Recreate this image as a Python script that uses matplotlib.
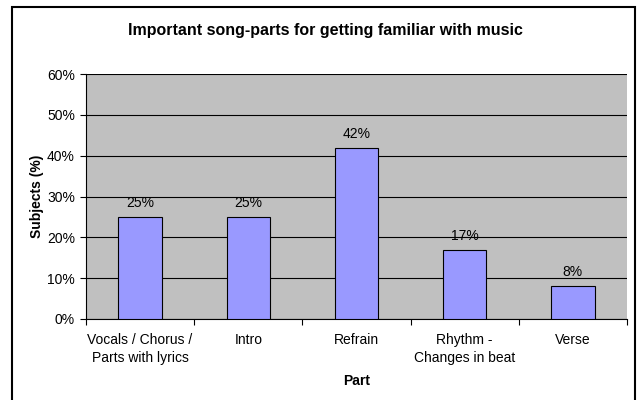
import matplotlib
matplotlib.use('Agg')
import matplotlib.pyplot as plt
from matplotlib.patches import Rectangle
from matplotlib.ticker import FuncFormatter

plt.rcParams['font.family'] = ['Liberation Sans', 'DejaVu Sans']

# data
parts = ['Vocals / Chorus /\nParts with lyrics', 'Intro', 'Refrain', 'Rhythm -\nChanges in beat', 'Verse']
subjects = [25, 25, 42, 17, 8]
yticks = [0, 10, 20, 30, 40, 50, 60]

fig = plt.figure(figsize=(6.37, 4.0), dpi=100)
fig.patches.append(Rectangle((12/637, -0.01), 623/637, 1 - 7/400 + 0.01,
                             transform=fig.transFigure, fill=False,
                             edgecolor='black', linewidth=1.5))

ax = fig.add_axes([86/637, 81/400, 541/637, 245/400])
ax.set_facecolor('#C0C0C0')

x = range(len(parts))
bars = ax.bar(x, subjects, width=0.4, color='#9999FF', edgecolor='black', linewidth=0.8, zorder=3)
for xi, v in zip(x, subjects):
    ax.text(xi, v + 3.4, f'{v}%', ha='center', va='center', fontsize=10, zorder=4)

ax.set_xlim(-0.5, len(parts) - 0.5)
ax.set_ylim(0, 60)
ax.set_yticks(yticks)
ax.yaxis.set_major_formatter(FuncFormatter(lambda v, p: f'{int(v)}%'))
ax.grid(axis='y', color='black', linewidth=0.8, zorder=1)

ax.set_xticks(x)
ax.set_xticklabels(parts, fontsize=10, linespacing=1.4)
ax.tick_params(axis='x', length=0, pad=10)
ax.set_xticks([i + 0.5 for i in range(-1, len(parts))], minor=True)
ax.tick_params(axis='x', which='minor', length=4, width=0.8, direction='out')
ax.tick_params(axis='y', length=4, width=0.8, labelsize=10, pad=4)

for s in ['top', 'right']:
    ax.spines[s].set_visible(False)
ax.spines['left'].set_linewidth(0.8)
ax.spines['bottom'].set_linewidth(0.8)

ax.set_ylabel('Subjects (%)', fontsize=10, fontweight='bold', labelpad=2)
ax.set_xlabel('Part', fontsize=10, fontweight='bold', labelpad=6)
fig.text(325/637, 1 - 30/400, 'Important song-parts for getting familiar with music',
         ha='center', va='center', fontsize=11.5, fontweight='bold')

fig.savefig('out.png', dpi=100)
